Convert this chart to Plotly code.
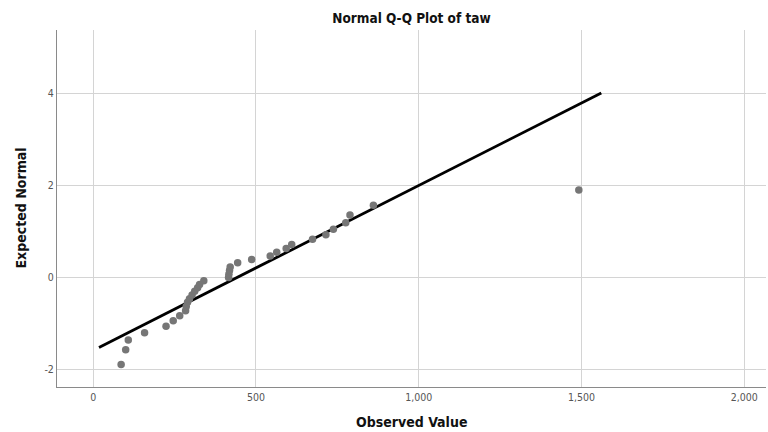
import plotly.graph_objects as go

observed = [86, 100, 108, 158, 224, 246, 266, 284, 286, 290, 296, 304, 312, 321, 327, 340,
            416, 417, 419, 421, 444, 487, 544, 564, 593, 610, 674, 715, 738, 776, 789, 861, 1492]
expected = [-1.89, -1.57, -1.36, -1.20, -1.06, -0.94, -0.83, -0.72, -0.63, -0.54, -0.46, -0.38,
            -0.30, -0.22, -0.15, -0.07, 0.00, 0.07, 0.15, 0.23, 0.32, 0.39, 0.47, 0.55, 0.63,
            0.72, 0.83, 0.93, 1.05, 1.19, 1.36, 1.57, 1.90]

# Reference line end points
line_x = [18, 1561]
line_y = [-1.52, 4.01]

x_ticks = [0, 500, 1000, 1500, 2000]
x_tick_labels = ["0", "500", "1,000", "1,500", "2,000"]
y_ticks = [-2, 0, 2, 4]
y_tick_labels = ["-2", "0", "2", "4"]

font_c = "DejaVu Sans Condensed, Liberation Sans Narrow, Arial Narrow, sans-serif"

W, H = 768, 432
ML, MR, MT, MB = 57, 2, 30, 45

fig = go.Figure()
fig.add_trace(go.Scatter(x=line_x, y=line_y, mode="lines",
                         line=dict(color="black", width=2.8), hoverinfo="skip",
                         showlegend=False))
fig.add_trace(go.Scatter(x=observed, y=expected, mode="markers",
                         marker=dict(color="#767676", size=7.5, line=dict(width=0)),
                         showlegend=False))

fig.update_layout(
    width=W, height=H,
    margin=dict(l=ML, r=MR, t=MT, b=MB, autoexpand=False),
    plot_bgcolor="white", paper_bgcolor="white",
    font=dict(family=font_c, color="#333333"),
    title=dict(text="<b>Normal Q-Q Plot of taw</b>", x=0.5, xref="paper",
               y=1 - 18 / H, yanchor="middle", yref="container",
               font=dict(size=13.5, color="#111111", family=font_c)),
    xaxis=dict(range=[-111, 2067], tickvals=x_ticks, ticktext=x_tick_labels,
               showgrid=True, gridcolor="#d4d4d4", gridwidth=1.2, zeroline=False,
               showline=True, linecolor="#8a8a8a", linewidth=1.2, automargin=False,
               ticks="", tickfont=dict(size=10.5, color="#555555")),
    yaxis=dict(range=[-2.38, 5.38], tickvals=y_ticks, ticktext=y_tick_labels,
               showgrid=True, gridcolor="#d4d4d4", gridwidth=1.2, zeroline=False,
               showline=True, linecolor="#8a8a8a", linewidth=1.2, automargin=False,
               ticks="", tickfont=dict(size=10.5, color="#555555")),
    annotations=[
        dict(text="<b>Observed Value</b>", xref="paper", yref="paper",
             x=0.5, y=-(422 - (H - MB)) / (H - MT - MB), xanchor="center", yanchor="middle",
             showarrow=False, font=dict(size=14, color="#111111")),
        dict(text="<b>Expected Normal</b>", xref="paper", yref="paper",
             x=-(ML - 20) / (W - ML - MR), y=0.5, xanchor="center", yanchor="middle",
             textangle=-90, showarrow=False, font=dict(size=14, color="#111111")),
    ],
)

fig.write_html("out.html", post_script="document.body.style.margin='0';",
               config={"displayModeBar": False})
